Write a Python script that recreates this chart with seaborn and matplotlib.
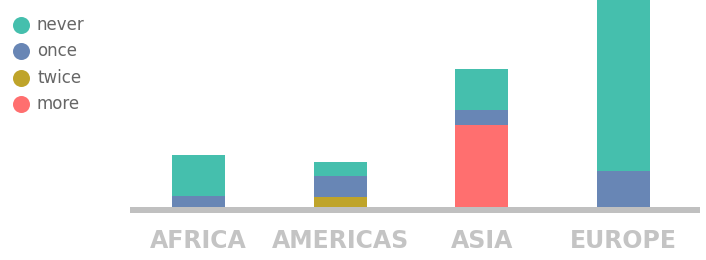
import numpy as np
import pandas as pd
import matplotlib.pyplot as plt
import seaborn as sns

regions = ['AFRICA', 'AMERICAS', 'ASIA', 'EUROPE']
never = [41, 14, 41, 180]
once = [11, 21, 15, 36]
twice = [0, 10, 0, 0]
more = [0, 0, 82, 0]

series = ['never', 'once', 'twice', 'more']
colors = {'never': '#45bfad', 'once': '#6886b5', 'twice': '#bfa42a', 'more': '#ff6f6f'}

df = pd.DataFrame({'region': regions, 'never': never, 'once': once,
                   'twice': twice, 'more': more})
# stack bottom -> top: more, twice, once, never
df['c_more'] = df['more']
df['c_twice'] = df['c_more'] + df['twice']
df['c_once'] = df['c_twice'] + df['once']
df['c_never'] = df['c_once'] + df['never']

sns.set_style('white')
plt.rcParams['font.family'] = ['DejaVu Sans']

fig = plt.figure(figsize=(7.06, 2.6), dpi=100)
ax = fig.add_axes([130 / 706, 53 / 260, 570 / 706, 207 / 260])

for key in series:
    sns.barplot(data=df, x='region', y='c_' + key, order=regions,
                color=colors[key], saturation=1, width=0.374,
                linewidth=0, ax=ax)

ax.set_xlim(-0.483, 3.54)
ax.set_ylim(0, 207)
ax.set_xlabel('')
ax.set_ylabel('')
ax.set_yticks([])

for s in ['top', 'right', 'left']:
    ax.spines[s].set_visible(False)
sp = ax.spines['bottom']
sp.set_position(('outward', 2.16))
sp.set_linewidth(4.32)
sp.set_color('#c0c0c0')
sp.set_capstyle('butt')
sp.set_zorder(0)

ax.tick_params(axis='x', length=0, pad=13.5)
for lab in ax.get_xticklabels():
    lab.set_fontsize(17)
    lab.set_fontweight('bold')
    lab.set_color('#c4c4c4')

# legend drawn in a pixel-coordinate overlay
lax = fig.add_axes([0, 0, 1, 1], zorder=5)
lax.set_xlim(0, 706)
lax.set_ylim(260, 0)
lax.axis('off')
for i, k in enumerate(series):
    y = 25 + 26.3 * i
    lax.scatter([21], [y], s=150, color=colors[k], linewidths=0)
    lax.text(37, y, k, fontsize=12, color='#666666', va='center', ha='left')

fig.savefig('out.png', dpi=100)
